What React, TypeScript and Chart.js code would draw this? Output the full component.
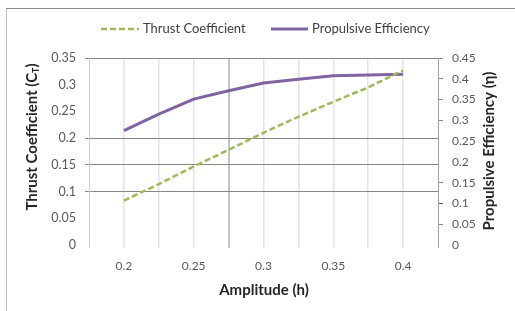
import React, { useEffect, useRef } from "react";
import { Chart, registerables } from "chart.js";

Chart.register(...registerables);

const amplitude = [0.2, 0.225, 0.25, 0.275, 0.3, 0.325, 0.35, 0.375, 0.4];
const thrustCoefficient = [0.083, 0.114, 0.147, 0.178, 0.21, 0.24, 0.268, 0.295, 0.327];
const propulsiveEfficiency = [0.275, 0.315, 0.351, 0.371, 0.39, 0.399, 0.407, 0.409, 0.411];
const seriesNames = ["Thrust Coefficient", "Propulsive Efficiency"];
const xTickLabels = ["0.2", "0.25", "0.3", "0.35", "0.4"];
const xGridValues = [0.175, 0.2, 0.225, 0.25, 0.275, 0.3, 0.325, 0.35, 0.375, 0.4, 0.425];
const leftTickLabels = ["0", "0.05", "0.1", "0.15", "0.2", "0.25", "0.3", "0.35"];
const rightTickLabels = ["0", "0.05", "0.1", "0.15", "0.2", "0.25", "0.3", "0.35", "0.4", "0.45"];
const xTitle = "Amplitude (h)";
const leftTitle = ["Thrust Coefficient (C", "T", ")"];
const rightTitle = "Propulsive Efficiency (\u03b7)";

const GREEN = "#9BBB59";
const PURPLE = "#8064A2";
const FONT = "Lato";

const near = (a: number, b: number) => Math.abs(a - b) < 1e-6;

const overlay = {
  id: "overlay",
  afterDraw(chart: any) {
    const ctx = chart.ctx as CanvasRenderingContext2D;
    ctx.save();
    // legend
    ctx.lineWidth = 2.5;
    ctx.strokeStyle = GREEN;
    ctx.setLineDash([6, 3]);
    ctx.beginPath();
    ctx.moveTo(101, 29);
    ctx.lineTo(139, 29);
    ctx.stroke();
    ctx.setLineDash([]);
    ctx.lineWidth = 3;
    ctx.strokeStyle = PURPLE;
    ctx.beginPath();
    ctx.moveTo(271, 29);
    ctx.lineTo(308, 29);
    ctx.stroke();
    ctx.fillStyle = "#404040";
    ctx.font = `13px ${FONT}`;
    ctx.textBaseline = "middle";
    ctx.textAlign = "left";
    ctx.fillText(seriesNames[0], 143, 29);
    ctx.fillText(seriesNames[1], 312, 29);

    // x title
    ctx.fillStyle = "#262626";
    ctx.font = `bold 15px ${FONT}`;
    ctx.textAlign = "center";
    ctx.fillText(xTitle, 264, 290);

    // left title with subscript
    ctx.save();
    ctx.translate(32, 137);
    ctx.rotate(-Math.PI / 2);
    ctx.textAlign = "left";
    ctx.font = `bold 15px ${FONT}`;
    const w0 = ctx.measureText(leftTitle[0]).width;
    const w2 = ctx.measureText(leftTitle[2]).width;
    ctx.font = `bold 9px ${FONT}`;
    const w1 = ctx.measureText(leftTitle[1]).width;
    let x = -(w0 + w1 + w2) / 2;
    ctx.font = `bold 15px ${FONT}`;
    ctx.fillText(leftTitle[0], x, 0);
    x += w0;
    ctx.font = `bold 9px ${FONT}`;
    ctx.fillText(leftTitle[1], x, 4);
    x += w1;
    ctx.font = `bold 15px ${FONT}`;
    ctx.fillText(leftTitle[2], x, 0);
    ctx.restore();

    // right title
    ctx.save();
    ctx.translate(489, 151);
    ctx.rotate(-Math.PI / 2);
    ctx.textAlign = "center";
    ctx.font = `bold 15px ${FONT}`;
    ctx.fillText(rightTitle, 0, 0);
    ctx.restore();

    ctx.restore();
  },
};

export default function App() {
  const ref = useRef<HTMLCanvasElement | null>(null);

  useEffect(() => {
    if (!ref.current) return;
    const chart = new Chart(ref.current, {
      type: "line",
      data: {
        datasets: [
          {
            label: seriesNames[0],
            data: amplitude.map((a, i) => ({ x: a, y: thrustCoefficient[i] })),
            borderColor: GREEN,
            borderWidth: 2.5,
            borderDash: [6, 3],
            pointRadius: 0,
            tension: 0,
            yAxisID: "y",
          },
          {
            label: seriesNames[1],
            data: amplitude.map((a, i) => ({ x: a, y: propulsiveEfficiency[i] })),
            borderColor: PURPLE,
            borderWidth: 3,
            pointRadius: 0,
            tension: 0,
            yAxisID: "y1",
          },
        ],
      },
      options: {
        responsive: false,
        animation: false,
        layout: { padding: { top: 58, left: 0, right: 0, bottom: 0 } },
        plugins: { legend: { display: false }, tooltip: { enabled: false } },
        scales: {
          x: {
            type: "linear",
            min: 0.175,
            max: 0.425,
            afterBuildTicks: (s: any) => {
              s.ticks = xGridValues.map((v) => ({ value: v }));
            },
            afterFit: (s: any) => {
              s.height = 66;
            },
            border: { display: false },
            grid: {
              color: (c: any) => {
                const v = c.tick?.value;
                if (near(v, 0.175)) return "#d0d0d0";
                if (near(v, 0.425)) return "#9a9a9a";
                if (near(v, 0.275)) return "#c4c4c4";
                return "#e4e4e4";
              },
              lineWidth: (c: any) => {
                const v = c.tick?.value;
                if (near(v, 0.275)) return 2;
                if (near(v, 0.175) || near(v, 0.425)) return 1;
                return 1.5;
              },
              tickLength: 3,
            },
            ticks: {
              padding: 11,
              color: "#595959",
              font: { family: FONT, size: 12 },
              maxRotation: 0,
              autoSkip: false,
              callback: (v: any) => {
                const idx = [0.2, 0.25, 0.3, 0.35, 0.4].findIndex((t) => near(t, Number(v)));
                return idx >= 0 ? xTickLabels[idx] : "";
              },
            },
          },
          y: {
            type: "linear",
            position: "left",
            min: 0,
            max: 0.35,
            afterBuildTicks: (s: any) => {
              s.ticks = leftTickLabels.map((t) => ({ value: Number(t) }));
            },
            afterFit: (s: any) => {
              s.width = 89;
            },
            border: { display: true, color: "#d0d0d0", width: 1 },
            grid: {
              color: (c: any) => {
                const v = c.tick?.value;
                return [0.35, 0.2, 0.15, 0.1].some((t) => near(t, v)) ? "#868686" : "rgba(0,0,0,0)";
              },
              lineWidth: 1,
              tickLength: 4,
            },
            ticks: {
              padding: 9,
              color: "#595959",
              font: { family: FONT, size: 12.5 },
              callback: (_v: any, i: number) => leftTickLabels[i],
            },
          },
          y1: {
            type: "linear",
            position: "right",
            min: 0,
            max: 0.45,
            afterBuildTicks: (s: any) => {
              s.ticks = rightTickLabels.map((t) => ({ value: Number(t) }));
            },
            afterFit: (s: any) => {
              s.width = 77;
            },
            border: { display: true, color: "#a0a0a0", width: 1 },
            grid: {
              drawOnChartArea: false,
              tickLength: 5,
              color: (c: any) => {
                const v = c.tick?.value;
                if (near(v, 0.1)) return "#555555";
                return [0.45, 0.4, 0.35, 0.3, 0.15, 0.05].some((t) => near(t, v)) ? "#868686" : "rgba(0,0,0,0)";
              },
            },
            ticks: {
              padding: 9,
              color: "#595959",
              font: { family: FONT, size: 12 },
              callback: (_v: any, i: number) => rightTickLabels[i],
            },
          },
        },
      },
      plugins: [overlay],
    } as any);
    return () => chart.destroy();
  }, []);

  return (
    <div style={{ position: "fixed", left: 0, top: 0, width: 515, height: 311, background: "#fff", overflow: "hidden" }}>
      <div
        style={{
          position: "absolute",
          left: 6,
          top: 8,
          right: 0,
          bottom: 0,
          borderTop: "1px solid #8a8a8a",
          borderLeft: "1px solid #c0c0c0",
        }}
      />
      <canvas ref={ref} width={515} height={311} style={{ position: "absolute", left: 0, top: 0, width: 515, height: 311 }} />
    </div>
  );
}
